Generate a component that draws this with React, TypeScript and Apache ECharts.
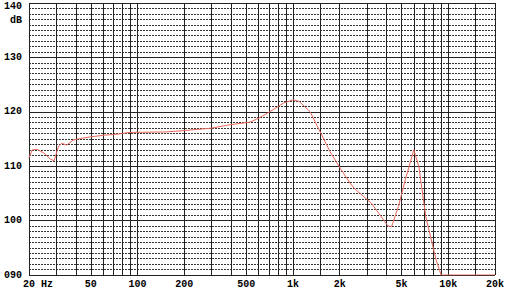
import React, { useEffect, useRef } from "react";
import * as echarts from "echarts";

const freqs = [20, 21, 22.5, 25, 27.5, 29, 31, 32.5, 35, 38.5, 43, 50, 61, 75, 88, 150, 190, 300, 390, 530, 600, 690, 870, 1000, 1100, 1290, 1500, 1730, 2020, 2330, 2490, 3200, 4100, 4320, 4780, 5290, 6000, 6470, 7170, 8350, 9000, 20000];
const levels = [111.6, 113.0, 113.1, 112.4, 111.3, 111.0, 113.7, 114.2, 113.9, 114.8, 115.1, 115.4, 115.7, 115.9, 116.2, 116.3, 116.5, 117.0, 117.6, 118.1, 118.8, 119.8, 121.6, 122.2, 121.9, 120.0, 116.3, 112.7, 109.6, 106.9, 105.9, 103.2, 99.0, 98.9, 102.6, 107.5, 113.0, 109.9, 100.7, 92.8, 90.0, 90.0];

const gridFreqs = [20, 30, 40, 50, 60, 70, 80, 90, 100, 200, 300, 400, 500, 600, 700, 800, 900, 1000, 1500, 2000, 3000, 4000, 5000, 6000, 7000, 8000, 9000, 10000, 15000, 20000];
const xTickValues = [20, 50, 100, 200, 500, 1000, 2000, 5000, 10000, 20000];
const xTickLabels = ["20 Hz", "50", "100", "200", "500", "1k", "2k", "5k", "10k", "20k"];
const yTickLabels: Record<number, string> = { 90: "090", 100: "100", 110: "110", 120: "120", 130: "130", 140: "140" };

const FONT = "'Liberation Mono', 'DejaVu Sans Mono', monospace";

export default function App() {
  const ref = useRef<HTMLDivElement>(null);
  useEffect(() => {
    if (!ref.current) return;
    const chart = echarts.init(ref.current, null, { renderer: "svg" });
    chart.setOption({
      animation: false,
      backgroundColor: "#fff",
      grid: { left: 29, right: 25, top: 3, bottom: 18 },
      xAxis: {
        type: "log",
        logBase: 10,
        min: 20,
        max: 20000,
        axisLine: { show: false },
        axisTick: { show: false },
        splitLine: { show: false },
        minorSplitLine: { show: false },
        axisLabel: {
          customValues: xTickValues,
          margin: 4,
          color: "#000",
          fontFamily: FONT,
          fontWeight: "bold",
          fontSize: 10,
          formatter: (v: number) => {
            const i = xTickValues.findIndex((t) => Math.abs(t - v) / t < 1e-6);
            const s = i >= 0 ? xTickLabels[i] : String(v);
            return i === 0 ? "{f|" + s + "}" : s;
          },
          rich: { f: { padding: [0, 0, 0, 18], fontFamily: FONT, fontWeight: "bold", fontSize: 10, color: "#000" } },
        },
      },
      yAxis: [
        {
          type: "value",
          min: 90,
          max: 140,
          interval: 1,
          axisLine: { show: false },
          axisTick: { show: false },
          axisLabel: { show: false },
          splitLine: { show: true, lineStyle: { color: "#333", width: 1, type: [2, 1] } },
        },
        {
          type: "value",
          position: "left",
          min: 90,
          max: 140,
          interval: 10,
          axisLine: { show: false },
          axisTick: { show: false },
          splitLine: { show: true, lineStyle: { color: "#222", width: 1, type: "solid" } },
          axisLabel: {
            margin: 7,
            color: "#000",
            fontFamily: FONT,
            fontWeight: "bold",
            fontSize: 10,
            formatter: (v: number) => (v === 140 ? "{t|140}" : yTickLabels[v] ?? String(v)),
            rich: { t: { padding: [7, 0, 0, 0], fontFamily: FONT, fontWeight: "bold", fontSize: 10, color: "#000" } },
          },
        },
      ],
      graphic: [
        {
          type: "text",
          right: 498,
          top: 15,
          style: { text: "dB", fill: "#000", font: "bold 10px " + FONT },
        },
      ],
      series: [
        {
          type: "line",
          data: [],
          z: 1,
          silent: true,
          markLine: {
            silent: true,
            symbol: ["none", "none"],
            label: { show: false },
            lineStyle: { color: "#222", width: 1, type: "solid" },
            emphasis: { disabled: true },
            data: gridFreqs.map((f) => ({ xAxis: f })),
          },
        },
        {
          type: "line",
          z: 5,
          yAxisIndex: 0,
          data: freqs.map((f, i) => [f, levels[i]]),
          showSymbol: false,
          symbol: "none",
          lineStyle: { color: "#e8675a", width: 1 },
          silent: true,
        },
      ],
    });
    return () => chart.dispose();
  }, []);
  return <div ref={ref} style={{ position: "fixed", left: 0, top: 0, width: 520, height: 293 }} />;
}
